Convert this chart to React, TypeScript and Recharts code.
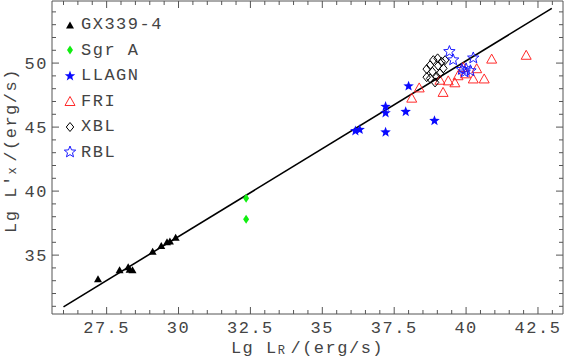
import React from "react";
import { ScatterChart, Scatter, XAxis, YAxis, ReferenceLine } from "recharts";

const FONT = "'Courier New', 'Liberation Mono', monospace";
const FRAME = "#555";
const INK = "#444";

// x = Lg L_R, y = Lg L'_X
const gx339 = [
  { x: 27.2, y: 33.15 },
  { x: 27.95, y: 33.85 },
  { x: 28.25, y: 34.1 },
  { x: 28.4, y: 33.85 },
  { x: 28.3, y: 33.9 },
  { x: 29.1, y: 35.3 },
  { x: 29.4, y: 35.75 },
  { x: 29.6, y: 36.05 },
  { x: 29.7, y: 36.1 },
  { x: 29.9, y: 36.4 },
];

const sgrA = [
  { x: 32.35, y: 39.45 },
  { x: 32.35, y: 37.8 },
];

const llagn = [
  { x: 36.15, y: 44.7 },
  { x: 36.3, y: 44.8 },
  { x: 37.2, y: 46.6 },
  { x: 37.2, y: 46.1 },
  { x: 37.2, y: 44.6 },
  { x: 37.9, y: 46.2 },
  { x: 38.9, y: 45.5 },
  { x: 38.0, y: 48.2 },
];

const fri = [
  { x: 38.11, y: 47.3 },
  { x: 38.37, y: 48.1 },
  { x: 39.2, y: 47.75 },
  { x: 39.09, y: 48.7 },
  { x: 39.38, y: 48.65 },
  { x: 39.61, y: 48.5 },
  { x: 39.72, y: 49.05 },
  { x: 39.9, y: 49.7 },
  { x: 39.98, y: 49.2 },
  { x: 40.25, y: 48.8 },
  { x: 40.37, y: 49.6 },
  { x: 40.63, y: 48.8 },
  { x: 40.89, y: 50.35 },
  { x: 42.09, y: 50.65 },
];

const xbl = [
  { x: 38.63, y: 49.53 },
  { x: 38.63, y: 48.9 },
  { x: 38.75, y: 49.84 },
  { x: 38.86, y: 50.23 },
  { x: 39.01, y: 50.37 },
  { x: 39.15, y: 50.1 },
  { x: 39.03, y: 49.79 },
  { x: 39.27, y: 50.23 },
  { x: 39.21, y: 49.59 },
  { x: 38.83, y: 49.32 },
  { x: 38.75, y: 48.8 },
  { x: 38.98, y: 48.93 },
  { x: 38.92, y: 48.49 },
  { x: 39.09, y: 49.2 },
];

const rbl = [
  { x: 39.42, y: 50.9 },
  { x: 39.55, y: 50.25 },
  { x: 40.25, y: 50.4 },
  { x: 39.85, y: 49.5 },
  { x: 40.0, y: 49.55 },
  { x: 40.15, y: 49.4 },
  { x: 39.95, y: 49.3 },
];

const fitLine = [
  { x: 26.0, y: 30.96 },
  { x: 42.98, y: 54.27 },
];

const X_DOMAIN = [25.6, 43.37];
const Y_DOMAIN = [30.4, 54.85];
const X_TICKS = Array.from({ length: 35 }, (_, i) => 26 + i * 0.5);
const Y_TICKS = Array.from({ length: 24 }, (_, i) => 31 + i);
const isMajorX = (v: number) => Math.abs(v / 2.5 - Math.round(v / 2.5)) < 1e-6;
const isMajorY = (v: number) => v % 5 === 0;

const textStyle = { fontFamily: FONT, fontSize: 17, letterSpacing: 1.5, fill: INK };

// marker drawing
function triPts(cx: number, cy: number, w: number, h: number) {
  return `${cx - w / 2},${cy + h / 2} ${cx + w / 2},${cy + h / 2} ${cx},${cy - h / 2}`;
}
function diaPts(cx: number, cy: number, w: number, h: number) {
  return `${cx},${cy - h / 2} ${cx + w / 2},${cy} ${cx},${cy + h / 2} ${cx - w / 2},${cy}`;
}
function starPts(cx: number, cy: number, ro: number, ri: number) {
  const p: string[] = [];
  for (let i = 0; i < 10; i++) {
    const r = i % 2 === 0 ? ro : ri;
    const a = -Math.PI / 2 + (i * Math.PI) / 5;
    p.push(`${cx + r * Math.cos(a)},${cy + r * Math.sin(a)}`);
  }
  return p.join(" ");
}

const MARK = {
  gx: (cx: number, cy: number) => <polygon points={triPts(cx, cy, 8, 7)} fill="#000" />,
  sgr: (cx: number, cy: number) => <polygon points={diaPts(cx, cy, 6, 9)} fill="#11ee11" />,
  llagn: (cx: number, cy: number) => <polygon points={starPts(cx, cy, 5.5, 2.3)} fill="#0a0aff" />,
  fri: (cx: number, cy: number) => (
    <polygon points={triPts(cx, cy, 10, 9)} fill="none" stroke="#ff2a2a" strokeWidth={1} />
  ),
  xbl: (cx: number, cy: number) => (
    <polygon points={diaPts(cx, cy, 7.5, 9)} fill="none" stroke="#000" strokeWidth={1} />
  ),
  rbl: (cx: number, cy: number) => (
    <polygon points={starPts(cx, cy, 6, 2.6)} fill="none" stroke="#1a1aff" strokeWidth={1} />
  ),
};

const shapeOf = (k: keyof typeof MARK) => (props: any) => MARK[k](props.cx, props.cy);

const legendItems: { key: keyof typeof MARK; name: string }[] = [
  { key: "gx", name: "GX339-4" },
  { key: "sgr", name: "Sgr A" },
  { key: "llagn", name: "LLAGN" },
  { key: "fri", name: "FRI" },
  { key: "xbl", name: "XBL" },
  { key: "rbl", name: "RBL" },
];

function BottomTick({ x, y, payload }: any) {
  const v = payload.value;
  const major = isMajorX(v);
  return (
    <g>
      <line x1={x} x2={x} y1={y} y2={y - (major ? 7 : 4)} stroke={FRAME} />
      {major && (
        <text x={x} y={y + 19} textAnchor="middle" style={textStyle}>
          {String(v)}
        </text>
      )}
    </g>
  );
}
function TopTick({ x, y, payload }: any) {
  const major = isMajorX(payload.value);
  return <line x1={x} x2={x} y1={y} y2={y + (major ? 7 : 4)} stroke={FRAME} />;
}
function LeftTick({ x, y, payload }: any) {
  const v = payload.value;
  const major = isMajorY(v);
  return (
    <g>
      <line x1={x} x2={x + (major ? 7 : 4)} y1={y} y2={y} stroke={FRAME} />
      {major && (
        <text x={x - 4} y={y + 5.5} textAnchor="end" style={textStyle}>
          {String(v)}
        </text>
      )}
    </g>
  );
}
function RightTick({ x, y, payload }: any) {
  const major = isMajorY(payload.value);
  return <line x1={x} x2={x - (major ? 7 : 4)} y1={y} y2={y} stroke={FRAME} />;
}

function XTitle({ viewBox }: any) {
  const cx = viewBox.x + viewBox.width / 2;
  return (
    <text x={cx} y={353} textAnchor="middle" style={textStyle}>
      Lg L<tspan fontSize={12} dy={1}>R</tspan>
      <tspan dy={-1} dx={4}>/(erg/s)</tspan>
    </text>
  );
}
function YTitle({ viewBox }: any) {
  const cy = viewBox.y + viewBox.height / 2 - 7;
  return (
    <text x={16} y={cy} textAnchor="middle" transform={`rotate(-90 16 ${cy})`} style={textStyle}>
      Lg L′<tspan fontSize={12}>x</tspan>
      <tspan dx={4}>/(erg/s)</tspan>
    </text>
  );
}

export default function App() {
  return (
    <div style={{ position: "absolute", left: 0, top: 0, width: 565, height: 358, background: "#fff" }}>
      <ScatterChart width={565} height={358} margin={{ top: 0, right: 0, bottom: 0, left: 0 }}>
        <XAxis
          dataKey="x"
          type="number"
          domain={X_DOMAIN}
          ticks={X_TICKS}
          interval={0}
          allowDataOverflow
          height={44}
          tickSize={0}
          tickMargin={0}
          tickLine={false}
          axisLine={{ stroke: FRAME }}
          tick={<BottomTick />}
          label={<XTitle />}
        />
        <XAxis
          xAxisId="top"
          orientation="top"
          dataKey="x"
          type="number"
          domain={X_DOMAIN}
          ticks={X_TICKS}
          interval={0}
          allowDataOverflow
          height={1}
          tickSize={0}
          tickMargin={0}
          tickLine={false}
          axisLine={{ stroke: FRAME }}
          tick={<TopTick />}
        />
        <YAxis
          dataKey="y"
          type="number"
          domain={Y_DOMAIN}
          ticks={Y_TICKS}
          interval={0}
          allowDataOverflow
          width={52}
          tickSize={0}
          tickMargin={0}
          tickLine={false}
          axisLine={{ stroke: FRAME }}
          tick={<LeftTick />}
          label={<YTitle />}
        />
        <YAxis
          yAxisId="right"
          orientation="right"
          dataKey="y"
          type="number"
          domain={Y_DOMAIN}
          ticks={Y_TICKS}
          interval={0}
          allowDataOverflow
          width={2}
          tickSize={0}
          tickMargin={0}
          tickLine={false}
          axisLine={{ stroke: FRAME }}
          tick={<RightTick />}
        />
        <Scatter name="GX339-4" data={gx339} shape={shapeOf("gx")} isAnimationActive={false} />
        <Scatter name="Sgr A" data={sgrA} shape={shapeOf("sgr")} isAnimationActive={false} />
        <Scatter name="LLAGN" data={llagn} shape={shapeOf("llagn")} isAnimationActive={false} />
        <Scatter name="FRI" data={fri} shape={shapeOf("fri")} isAnimationActive={false} />
        <Scatter name="XBL" data={xbl} shape={shapeOf("xbl")} isAnimationActive={false} />
        <Scatter name="RBL" data={rbl} shape={shapeOf("rbl")} isAnimationActive={false} />
        <ReferenceLine segment={fitLine} stroke="#000" strokeWidth={1.6} ifOverflow="visible" />
      </ScatterChart>
      {legendItems.map((it, i) => (
        <div
          key={it.key}
          style={{
            position: "absolute",
            left: 62,
            top: 24.5 + i * 25.5 - 11,
            height: 22,
            display: "flex",
            alignItems: "center",
            fontFamily: FONT,
            fontSize: 17,
            letterSpacing: 1.5,
            color: INK,
            whiteSpace: "pre",
          }}
        >
          <svg width={16} height={16} style={{ marginRight: 3 }}>
            {MARK[it.key](8, 8)}
          </svg>
          {it.name}
        </div>
      ))}
    </div>
  );
}
